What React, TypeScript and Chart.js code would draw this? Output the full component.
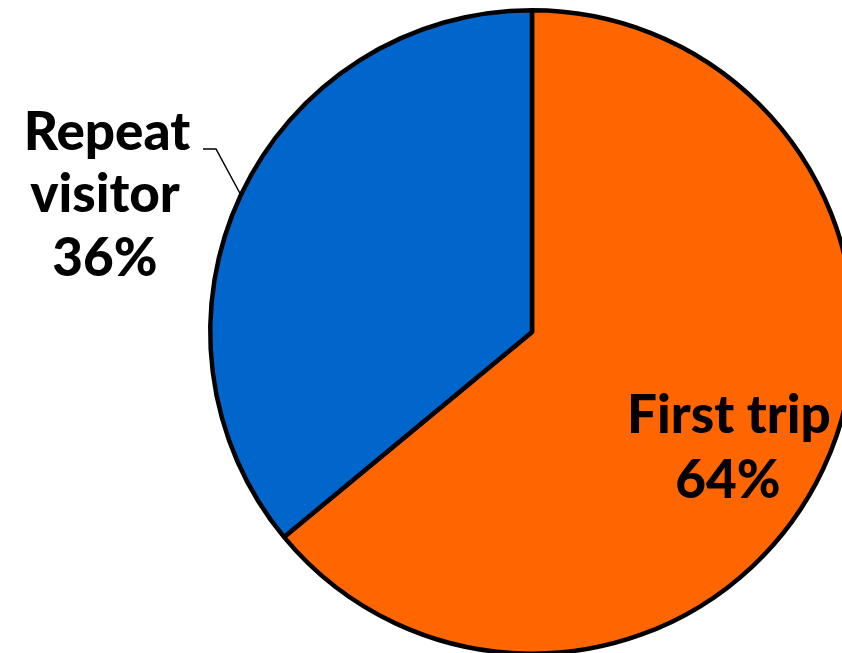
import React, { useEffect, useRef } from "react";
import { Chart, registerables } from "chart.js";

Chart.register(...registerables);

const categories = ["First trip", "Repeat visitor"];
const values = [64, 36];
const colors = ["#FF6600", "#0066CC"];
const labelLines = [["First trip", "64%"], ["Repeat", "visitor", "36%"]];

const FONT = "900 53px Lato, 'DejaVu Sans', sans-serif";

const labelPlugin = {
  id: "pieLabels",
  afterDraw(chart: any) {
    const ctx = chart.ctx;
    const meta = chart.getDatasetMeta(0);
    ctx.save();
    ctx.fillStyle = "#000";
    ctx.font = FONT;
    ctx.textAlign = "center";
    ctx.textBaseline = "alphabetic";
    const l0 = labelLines[0];
    ctx.fillText(l0[0], 729, 433);
    ctx.fillText(l0[1], 728, 498);
    const l1 = labelLines[1];
    ctx.fillText(l1[0], 107, 150);
    ctx.fillText(l1[1], 105, 212);
    ctx.fillText(l1[2], 105, 276);
    const arc = meta.data[1];
    const mid = (arc.startAngle + arc.endAngle) / 2;
    const ex = arc.x + arc.outerRadius * Math.cos(mid);
    const ey = arc.y + arc.outerRadius * Math.sin(mid);
    ctx.strokeStyle = "#000";
    ctx.lineWidth = 1.5;
    ctx.beginPath();
    ctx.moveTo(203, 149);
    ctx.lineTo(216, 149);
    ctx.lineTo(ex, ey);
    ctx.stroke();
    ctx.restore();
  },
};

export default function App() {
  const ref = useRef<HTMLCanvasElement>(null);
  useEffect(() => {
    const chart = new Chart(ref.current!, {
      type: "pie",
      data: {
        labels: categories,
        datasets: [
          {
            data: values,
            backgroundColor: colors,
            borderColor: "#000",
            borderWidth: 4.5,
          },
        ],
      },
      options: {
        animation: false,
        responsive: false,
        maintainAspectRatio: false,
        layout: { padding: { left: 208, right: 44, top: 8, bottom: 44 } },
        plugins: { legend: { display: false }, tooltip: { enabled: false } },
      },
      plugins: [labelPlugin],
    });
    return () => chart.destroy();
  }, []);
  return (
    <div
      style={{
        position: "fixed",
        left: 0,
        top: 0,
        width: 842,
        height: 653,
        overflow: "hidden",
        background: "#fff",
      }}
    >
      <canvas ref={ref} width={900} height={700} style={{ width: 900, height: 700, display: "block" }} />
    </div>
  );
}
